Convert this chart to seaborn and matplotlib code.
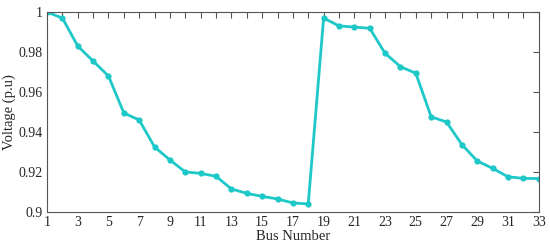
import numpy as np
import pandas as pd
import matplotlib
matplotlib.use("Agg")
import matplotlib.pyplot as plt
import seaborn as sns

bus = list(range(1, 34))
voltage = [1.0, 0.997, 0.983, 0.9755, 0.968, 0.9495, 0.946, 0.9325, 0.926, 0.920,
           0.9193, 0.9178, 0.9115, 0.9093, 0.9078, 0.9065, 0.9045, 0.904,
           0.997, 0.9931, 0.9925, 0.9919, 0.9794, 0.9727, 0.9694, 0.9476, 0.945,
           0.9337, 0.9255, 0.9218, 0.9176, 0.9168, 0.9167]

df = pd.DataFrame({"bus": bus, "voltage": voltage})

sns.set_style("white")
plt.rcParams['font.family'] = ['Liberation Serif', 'DejaVu Serif']

fig = plt.figure(figsize=(5.5, 2.52), dpi=100)
ax = fig.add_axes([0.0855, 0.159, 0.894, 0.793])
sns.lineplot(data=df, x="bus", y="voltage", ax=ax, color="#1ec8c8", linewidth=2,
             marker="o", markersize=4.5, markeredgewidth=0)

ax.set_xlim(1, 33)
ax.set_ylim(0.9, 1.0)
ax.set_xticks(range(1, 34, 2))
ax.set_xticks(range(1, 34), minor=True)
ax.set_yticks([0.9, 0.92, 0.94, 0.96, 0.98, 1.0])
ax.set_yticklabels(["0.9", "0.92", "0.94", "0.96", "0.98", "1"])
ax.tick_params(which="both", direction="in", top=True, right=True, labelsize=10,
               color="#555555", width=0.8, pad=3)
ax.tick_params(which="major", length=4)
ax.tick_params(which="minor", length=4)
for s in ax.spines.values():
    s.set_color("#555555")
    s.set_linewidth(0.8)
ax.set_xlabel("Bus Number", fontsize=10.5, labelpad=1)
ax.set_ylabel("Voltage (p.u)", fontsize=10.5, labelpad=2)

fig.savefig("out.png", dpi=100)
